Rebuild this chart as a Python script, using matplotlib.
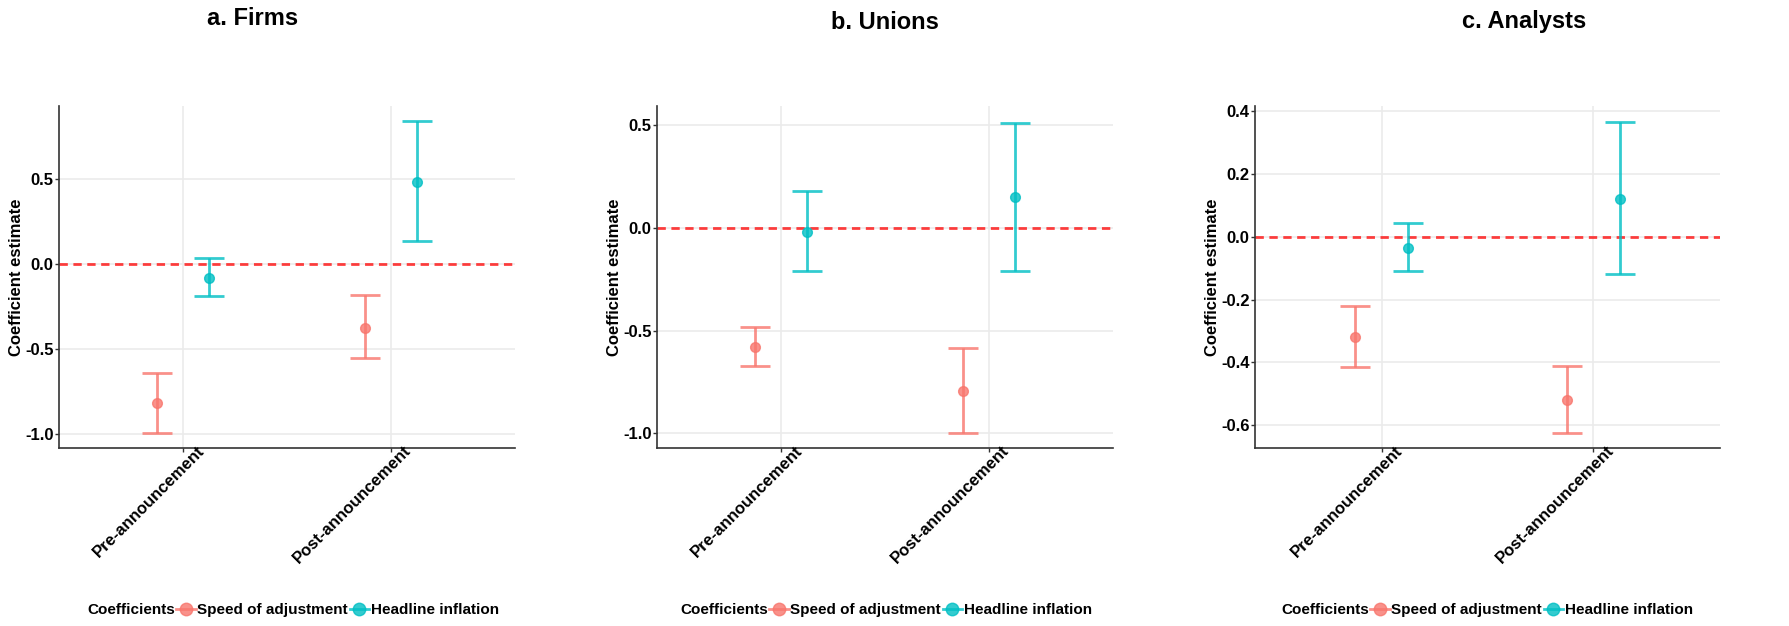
import numpy as np
import matplotlib
matplotlib.use("Agg")
from matplotlib import pyplot as plt
from matplotlib.lines import Line2D
from matplotlib.transforms import ScaledTranslation

plt.rcParams['font.family'] = ['Liberation Sans', 'DejaVu Sans']
plt.rcParams['font.weight'] = 'bold'

periods = ['Pre-announcement', 'Post-announcement']
coefs = ['Speed of adjustment', 'Headline inflation']
colors = ['#F8766D', '#00BFC4']

titles = ['a. Firms', 'b. Unions', 'c. Analysts']

# estimate, lower, upper  for [pre, post]
firms_speed = [-0.818, -0.373]
firms_speed_lo = [-0.99, -0.553]
firms_speed_hi = [-0.638, -0.183]
firms_infl = [-0.079, 0.482]
firms_infl_lo = [-0.187, 0.137]
firms_infl_hi = [0.035, 0.839]

unions_speed = [-0.58, -0.795]
unions_speed_lo = [-0.673, -0.997]
unions_speed_hi = [-0.481, -0.584]
unions_infl = [-0.021, 0.149]
unions_infl_lo = [-0.212, -0.209]
unions_infl_hi = [0.181, 0.511]

analysts_speed = [-0.32, -0.52]
analysts_speed_lo = [-0.416, -0.624]
analysts_speed_hi = [-0.222, -0.411]
analysts_infl = [-0.035, 0.12]
analysts_infl_lo = [-0.11, -0.12]
analysts_infl_hi = [0.044, 0.366]

panels = [
    [(firms_speed, firms_speed_lo, firms_speed_hi), (firms_infl, firms_infl_lo, firms_infl_hi)],
    [(unions_speed, unions_speed_lo, unions_speed_hi), (unions_infl, unions_infl_lo, unions_infl_hi)],
    [(analysts_speed, analysts_speed_lo, analysts_speed_hi), (analysts_infl, analysts_infl_lo, analysts_infl_hi)],
]
ylims = [(-1.08, 0.93), (-1.071, 0.592), (-0.673, 0.417)]
yticks = [[-1.0, -0.5, 0.0, 0.5], [-1.0, -0.5, 0.0, 0.5], [-0.6, -0.4, -0.2, 0.0, 0.2, 0.4]]

W, H = 1789, 626
fig = plt.figure(figsize=(W / 100, H / 100), dpi=100)

# panel boxes in pixels: left, right, top, bottom
boxes = [(59, 515, 106, 448), (657, 1113, 106, 448), (1255, 1720, 106, 448)]
title_pos = [(253, 25), (885, 29), (1524, 28)]
legend_x = [87, 680, 1281]

dodge = 0.125
for k in range(3):
    l, r, t, b = boxes[k]
    ax = fig.add_axes([l / W, 1 - b / H, (r - l) / W, (b - t) / H])
    x = np.arange(len(periods))
    for j, (est, lo, hi) in enumerate(panels[k]):
        est = np.array(est)
        err = [est - np.array(lo), np.array(hi) - est]
        off = -dodge if j == 0 else dodge
        ax.errorbar(x + off, est, yerr=err, fmt='o', color=colors[j], alpha=0.8,
                    ms=7, elinewidth=2, capsize=10.8, capthick=2, zorder=3)
    ax.axhline(0, color='red', alpha=0.75, lw=2, ls=(0, (3, 2)), zorder=2)
    ax.set_xlim(-0.6, 1.6)
    ax.set_ylim(*ylims[k])
    ax.set_xticks(x)
    ax.set_xticklabels([])
    # rotated category labels, nudged like the ggplot ones
    shift = ScaledTranslation(13 / 100, 5 / 100, fig.dpi_scale_trans)
    for xi, lab in zip(x, periods):
        ax.text(xi, 0, lab, transform=ax.get_xaxis_transform() + shift,
                rotation=45, ha='right', va='top', rotation_mode='anchor',
                fontsize=12, fontweight='bold')
    ax.set_yticks(yticks[k])
    ax.set_yticklabels(['%.1f' % v for v in yticks[k]], fontsize=12, fontweight='bold')
    ax.set_ylabel('Coefficient estimate', fontsize=12, fontweight='bold', labelpad=1)
    ax.grid(True, color='#EBEBEB', lw=1.2)
    ax.set_axisbelow(True)
    for s in ['top', 'right']:
        ax.spines[s].set_visible(False)
    for s in ['left', 'bottom']:
        ax.spines[s].set_color('#333333')
        ax.spines[s].set_linewidth(1.2)
    ax.tick_params(axis='both', color='#333333', length=3, width=1, labelcolor='black')
    ax.tick_params(axis='y', pad=1)

    tx, ty = title_pos[k]
    fig.text(tx / W, 1 - ty / H, titles[k], ha='center', va='baseline',
             fontsize=17, fontweight='bold')

    lx = legend_x[k]
    fig.text(lx / W, 1 - 610 / H, 'Coefficients', ha='left', va='center',
             fontsize=11, fontweight='bold')
    handles = [Line2D([], [], color=c, marker='o', ms=9, lw=2, alpha=0.8) for c in colors]
    fig.legend(handles, coefs, loc='center left', bbox_to_anchor=((lx + 89) / W, 1 - 610 / H),
               ncol=2, frameon=False, handlelength=1.3, handletextpad=0.1,
               columnspacing=0.1, borderpad=0, borderaxespad=0,
               prop={'size': 11, 'weight': 'bold'})

fig.savefig('out.png', dpi=100)
